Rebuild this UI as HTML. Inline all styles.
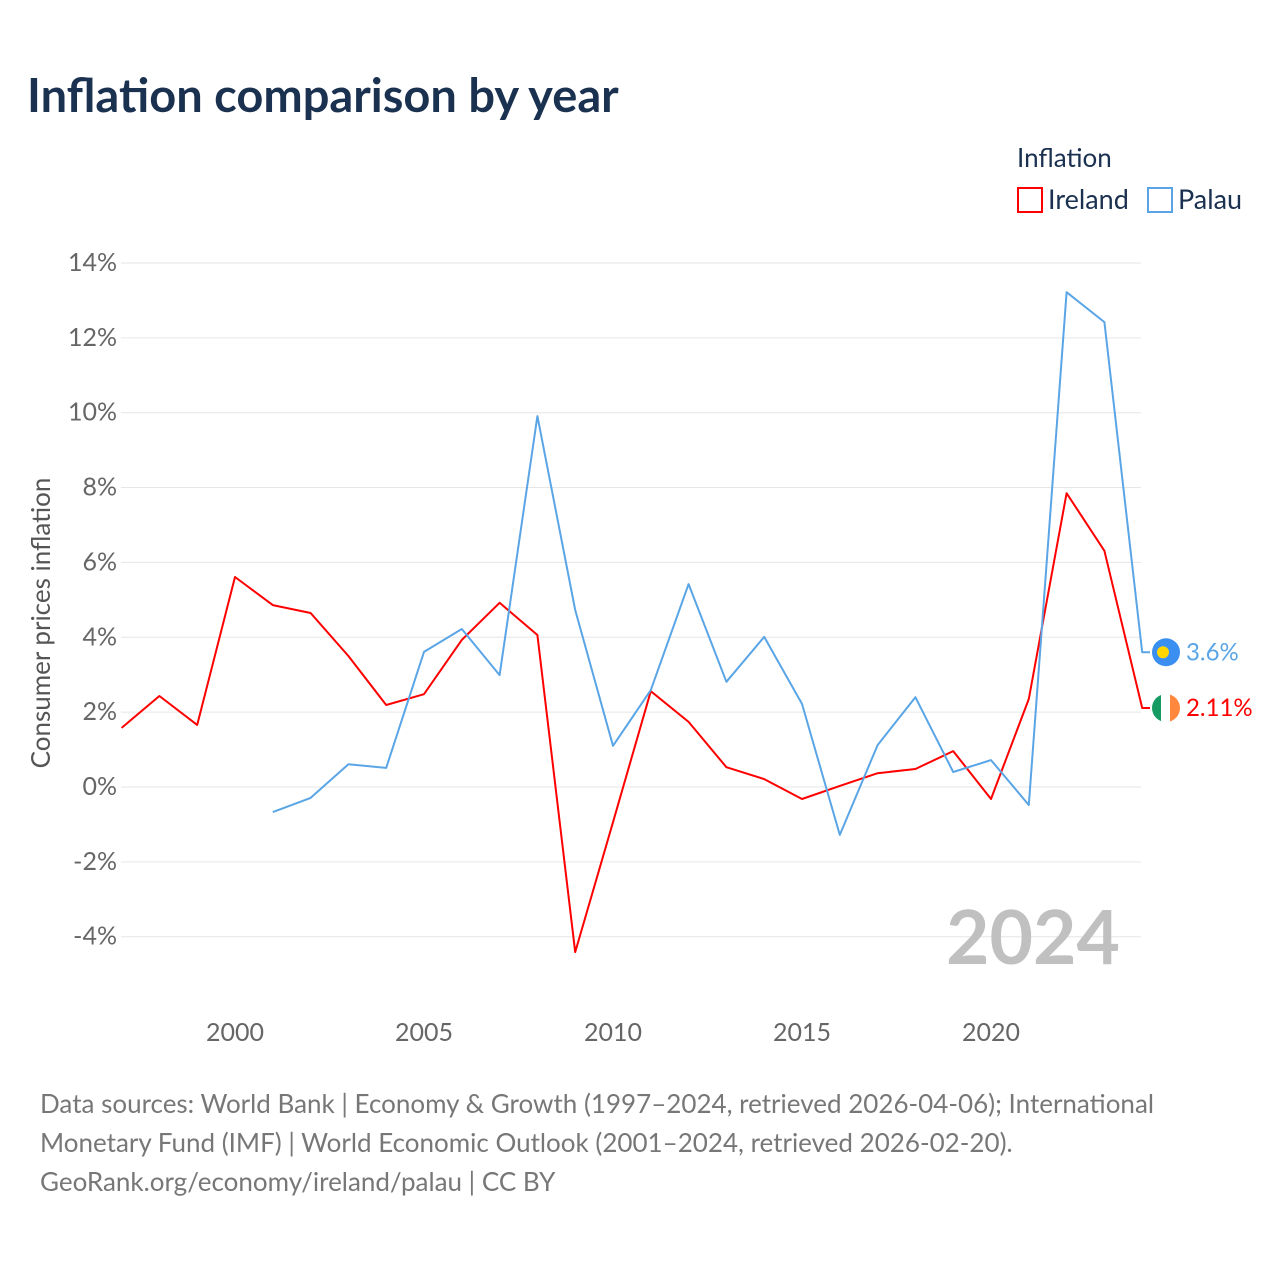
<!DOCTYPE html>
<html><head><meta charset="utf-8">
<style>
body{margin:0;background:#fff;font-family:"Liberation Sans",sans-serif;}
svg text{font-family:"Lato","Liberation Sans",sans-serif;}
</style></head>
<body>
<svg id="chart" width="1280" height="1280" viewBox="0 0 1280 1280">
<text x="27" y="112" font-size="47" font-weight="bold" fill="#1b3150">Inflation comparison by year</text>
<g>
<text x="1017" y="167" font-size="26" fill="#1b3150">Inflation</text>
<g><rect x="1018" y="188" width="24" height="24" fill="none" stroke="#ff0000" stroke-width="2"/><text x="1048" y="209" font-size="27" fill="#1b3150">Ireland</text></g>
<g><rect x="1148" y="188" width="24" height="24" fill="none" stroke="#5aa5e6" stroke-width="2"/><text x="1178" y="209" font-size="27" fill="#1b3150">Palau</text></g>
</g>
<g id="grid"></g>
<g id="yticks"></g>
<g id="xticks"></g>
<text transform="translate(50,623) rotate(-90)" text-anchor="middle" font-size="26" fill="#555">Consumer prices inflation</text>
<text x="1120" y="964" text-anchor="end" font-size="75" font-weight="bold" fill="#c0c0c0">2024</text>
<g id="series"></g>
<g id="ends"></g>
<g font-size="26" fill="#777">
<text x="40" y="1113">Data sources: World Bank | Economy &amp; Growth (1997–2024, retrieved 2026-04-06); International</text>
<text x="40" y="1152">Monetary Fund (IMF) | World Economic Outlook (2001–2024, retrieved 2026-02-20).</text>
<text x="40" y="1191">GeoRank.org/economy/ireland/palau | CC BY</text>
</g>
</svg>
<script>
const irelandYears=[1997,1998,1999,2000,2001,2002,2003,2004,2005,2006,2007,2008,2009,2010,2011,2012,2013,2014,2015,2016,2017,2018,2019,2020,2021,2022,2023,2024];
const irelandValues=[1.58,2.43,1.66,5.61,4.86,4.65,3.5,2.19,2.48,3.93,4.92,4.06,-4.41,-0.94,2.56,1.74,0.53,0.21,-0.32,0.03,0.37,0.48,0.96,-0.32,2.35,7.85,6.31,2.11];
const palauYears=[2001,2002,2003,2004,2005,2006,2007,2008,2009,2010,2011,2012,2013,2014,2015,2016,2017,2018,2019,2020,2021,2022,2023,2024];
const palauValues=[-0.67,-0.29,0.61,0.51,3.61,4.22,2.99,9.91,4.73,1.10,2.59,5.42,2.81,4.01,2.22,-1.28,1.12,2.40,0.40,0.72,-0.48,13.22,12.42,3.6];
const yTicks=[-4,-2,0,2,4,6,8,10,12,14];
const xTicks=[2000,2005,2010,2015,2020];
const NS="http://www.w3.org/2000/svg";
const xs=y=>235+(y-2000)*37.8;
const ys=v=>787-v*37.43;
function mk(tag,attrs,parent){const e=document.createElementNS(NS,tag);for(const k in attrs)e.setAttribute(k,attrs[k]);parent.appendChild(e);return e;}
const grid=document.getElementById('grid'),yt=document.getElementById('yticks'),xt=document.getElementById('xticks');
yTicks.forEach(t=>{
 const l=mk('line',{x1:121,x2:1141,y1:ys(t),y2:ys(t),stroke:'#e6e6e6','stroke-width':1},grid);
 
 
 const tx=mk('text',{x:117,y:ys(t)+8,'text-anchor':'end','font-size':25,fill:'#666'},yt);
 tx.textContent=t+'%';
 
 
});
xTicks.forEach(t=>{
 const tx=mk('text',{x:xs(t),y:1041,'text-anchor':'middle','font-size':25,fill:'#666'},xt);
 tx.textContent=t;
 
 
});
const ser=document.getElementById('series');
function line(years,vals,color,name){
 const d=years.map((y,i)=>(i?'L':'M')+xs(y).toFixed(1)+','+ys(vals[i]).toFixed(1)).join('')+'H1150';
 const p=mk('path',{d:d,fill:'none',stroke:color,'stroke-width':2,'stroke-linejoin':'round'},ser);
 
 
}
line(irelandYears,irelandValues,'#ff0000','ireland-line');
line(palauYears,palauValues,'#5aa5e6','palau-line');
const ends=document.getElementById('ends');
const py=ys(palauValues[palauValues.length-1]), iy=ys(irelandValues[irelandValues.length-1]);
const pf=mk('circle',{cx:1166,cy:py,r:14,fill:'#3a8ff0'},ends);


mk('circle',{cx:1163,cy:py,r:6,fill:'#ffd700'},ends);
const g=mk('g',{},ends);


mk('clipPath',{id:'cp'},g).appendChild(document.createElementNS(NS,'circle'));
const cc=g.querySelector('clipPath circle');cc.setAttribute('cx',1166);cc.setAttribute('cy',iy);cc.setAttribute('r',14);
mk('rect',{x:1152,y:iy-14,width:10,height:28,fill:'#169b62','clip-path':'url(#cp)'},g);
mk('rect',{x:1161,y:iy-14,width:10,height:28,fill:'#fff','clip-path':'url(#cp)'},g);
mk('rect',{x:1170,y:iy-14,width:10,height:28,fill:'#ff883e','clip-path':'url(#cp)'},g);
const pt=mk('text',{x:1186,y:py+8,'font-size':24,fill:'#5aa5e6'},ends);
pt.textContent=palauValues[palauValues.length-1]+'%';


const it=mk('text',{x:1186,y:iy+8,'font-size':24,fill:'#ff0000'},ends);
it.textContent=irelandValues[irelandValues.length-1]+'%';


</script>
</body></html>
